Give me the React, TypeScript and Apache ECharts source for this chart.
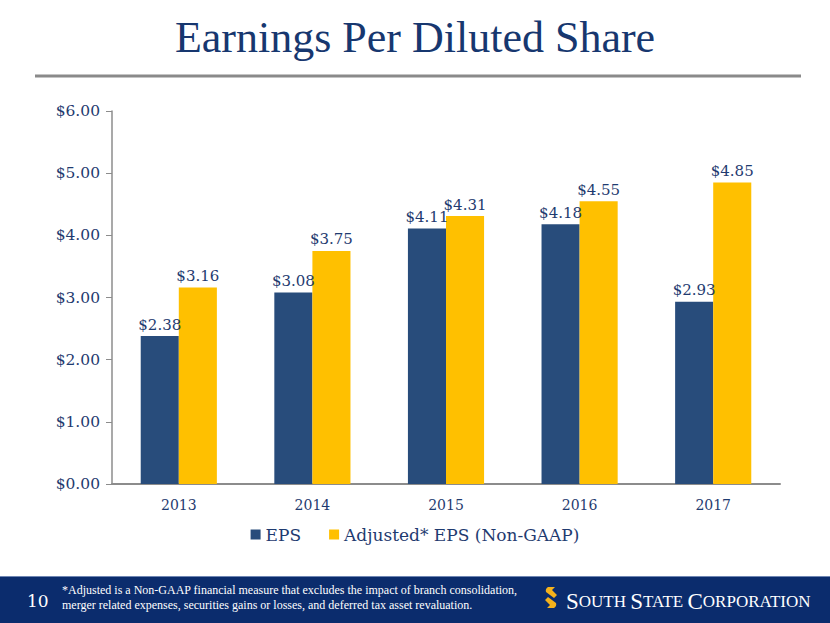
import React, { useEffect, useRef } from "react";
import * as echarts from "echarts";

const categories = ["2013", "2014", "2015", "2016", "2017"];
const epsValues = [2.38, 3.08, 4.11, 4.18, 2.93];
const adjustedValues = [3.16, 3.75, 4.31, 4.55, 4.85];
const seriesNames = ["EPS", "Adjusted* EPS (Non-GAAP)"];
const titleText = "Earnings Per Diluted Share";
const footnoteLines = [
  "*Adjusted is a Non-GAAP financial measure that excludes the impact of branch consolidation,",
  "merger related expenses, securities gains or losses, and deferred tax asset revaluation.",
];
const pageNumber = "10";

const NAVY = "#1f3b70";
const SERIF = "DejaVu Serif";
const NARROW = "Liberation Serif";

echarts.graphic.registerShape(
  "ssLogo",
  echarts.graphic.extendPath(
    "M3,0 L10,0 L7,3 L12,8 L9,11 L1,5 Q0,2 3,0 Z M0,13 L3,10 L11,16 Q12,19 9,21 L2,21 L5,18 Z",
    {}
  ) as any
);

export default function App() {
  const ref = useRef<HTMLDivElement>(null);
  useEffect(() => {
    if (!ref.current) return;
    const chart = echarts.init(ref.current, undefined, { renderer: "svg" });
    const labelCfg = {
      show: true,
      position: "top" as const,
      distance: 4,
      color: NAVY,
      fontFamily: SERIF,
      fontSize: 15,
      formatter: (p: any) => "$" + Number(p.value).toFixed(2),
    };
    const small = { fontFamily: NARROW, fontSize: 17, fill: "#ffffff", color: "#ffffff" };
    const big = { fontFamily: NARROW, fontSize: 23, fill: "#ffffff", color: "#ffffff" };
    chart.setOption({
      animation: false,
      backgroundColor: "#ffffff",
      grid: { left: 112, right: 50, top: 111, bottom: 139, containLabel: false },
      legend: {
        data: seriesNames,
        left: "center",
        top: 521,
        itemWidth: 10,
        itemHeight: 10,
        itemGap: 28,
        icon: "rect",
        textStyle: { color: NAVY, fontFamily: SERIF, fontSize: 17 },
      },
      xAxis: {
        type: "category",
        data: categories,
        axisLine: { lineStyle: { color: "#8c8c8c", width: 2 } },
        axisTick: { show: false },
        axisLabel: { color: NAVY, fontFamily: SERIF, fontSize: 14, margin: 14 },
      },
      yAxis: {
        type: "value",
        min: 0,
        max: 6,
        interval: 1,
        splitLine: { show: false },
        axisLine: { show: true, lineStyle: { color: "#8c8c8c", width: 1.5 } },
        axisTick: { show: true, length: 6, lineStyle: { color: "#8c8c8c" } },
        axisLabel: {
          color: NAVY,
          fontFamily: SERIF,
          fontSize: 15.5,
          margin: 12,
          formatter: (v: number) => "$" + v.toFixed(2),
        },
      },
      series: [
        {
          name: seriesNames[0],
          type: "bar",
          data: epsValues,
          itemStyle: { color: "#284c7b" },
          barGap: "0%",
          barCategoryGap: "43%",
          label: labelCfg,
        },
        {
          name: seriesNames[1],
          type: "bar",
          data: adjustedValues,
          itemStyle: { color: "#ffc000" },
          barGap: "0%",
          barCategoryGap: "43%",
          label: labelCfg,
        },
      ],
      graphic: [
        {
          type: "text",
          left: "center",
          top: 15,
          style: {
            text: titleText,
            fill: "#17376f",
            fontFamily: NARROW,
            fontSize: 44,
          },
        },
        {
          type: "line",
          shape: { x1: 35, y1: 76, x2: 801, y2: 76 },
          style: { stroke: "#8a8a8a", lineWidth: 3 },
        },
        {
          type: "rect",
          shape: { x: 0, y: 576, width: 830, height: 47 },
          style: { fill: "#0b2c6d" },
        },
        {
          type: "line",
          shape: { x1: 0, y1: 576.5, x2: 830, y2: 576.5 },
          style: { stroke: "#6f86b3", lineWidth: 1 },
        },
        {
          type: "text",
          x: 27,
          y: 601,
          style: {
            text: pageNumber,
            fill: "#ffffff",
            fontFamily: SERIF,
            fontSize: 17,
            verticalAlign: "middle",
          },
        },
        {
          type: "text",
          x: 62,
          y: 583,
          style: {
            text: footnoteLines.join("\n"),
            fill: "#ffffff",
            fontFamily: NARROW,
            fontSize: 12,
            lineHeight: 14.5,
          },
        },
        {
          type: "ssLogo",
          x: 545,
          y: 587,
          scaleX: 1.0,
          scaleY: 1.0,
          style: { fill: "#f5b21c" },
        },
        {
          type: "text",
          x: 566,
          y: 601,
          style: {
            text: "{b|S}{s|OUTH }{b|S}{s|TATE }{b|C}{s|ORPORATION}",
            fill: "#ffffff",
            verticalAlign: "middle",
            rich: { b: big, s: small },
          },
        },
      ],
    } as any);
    return () => chart.dispose();
  }, []);
  return (
    <div
      ref={ref}
      style={{ position: "fixed", left: 0, top: 0, width: 830, height: 623 }}
    />
  );
}
